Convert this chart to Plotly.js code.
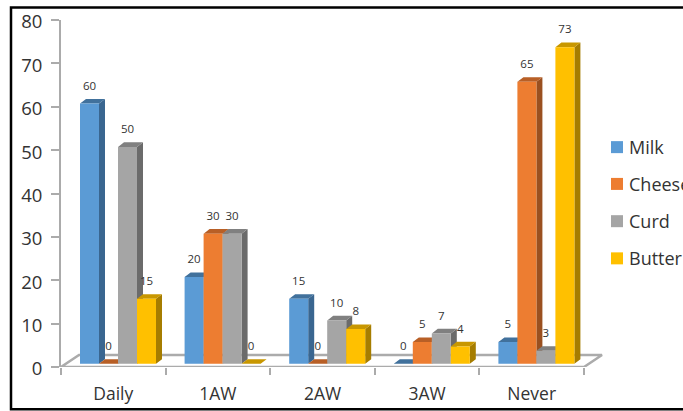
<!DOCTYPE html>
<html>
<head>
<meta charset="utf-8">
<script src="https://cdn.plot.ly/plotly-3.0.0.min.js"></script>
<style>html,body{margin:0;padding:0;background:#fff;overflow:hidden}</style>
</head>
<body>
<div id="chart" style="width:683px;height:411px"></div>
<script>
// Dairy consumption frequency, four products per frequency group
const categories = ["Daily", "1AW", "2AW", "3AW", "Never"];
const milk = [60, 20, 15, 0, 5];
const cheese = [0, 30, 0, 5, 65];
const curd = [50, 30, 10, 7, 3];
const butter = [15, 0, 8, 4, 73];
const seriesNames = ["Milk", "Cheese", "Curd", "Butter"];
const frontColors = ["#5B9BD5", "#ED7D31", "#A5A5A5", "#FFC000"];
const topColors = ["#41719C", "#B85F26", "#808080", "#C89700"];
const sideColors = ["#3A6690", "#9A5020", "#6B6B6B", "#A67D00"];
const ink = "#333333";
const fontFamily = "Open Sans";

// Plot box in pixels; the box reaches past the last group to hold the floor's depth and the swatches
const W = 683, H = 411, L = 61, AXIS_END = 584, R = 640, T = 19.5, B = 366.7;
const pxX = (AXIS_END - L) / 5, pxY = (B - T) / 80;

// Pseudo-3D geometry, expressed in axis units
const barW = 19 / pxX, barStart = 19 / pxX;
const lift = 3.2 / pxY;          // bars stand slightly behind the front axis
const depthX = 6 / pxX, depthY = 4.6 / pxY;
const floorX = 18 / pxX, floorY = 12 / pxY;

const allSeries = [milk, cheese, curd, butter];
const traces = [];

// Floor of the 3D box
traces.push({
  type: "scatter", mode: "lines", hoverinfo: "skip", showlegend: false, cliponaxis: false,
  x: [0, floorX, 5 + floorX, 5, 0], y: [0, floorY, floorY, 0, 0],
  line: {color: "#ABABAB", width: 2.5}
});

function polygons(values, sIdx, corners) {
  const xs = [], ys = [];
  values.forEach((v, c) => {
    const x0 = c + barStart + sIdx * barW, x1 = x0 + barW, y1 = lift + v;
    corners(x0, x1, y1).forEach(p => { xs.push(p[0]); ys.push(p[1]); });
    xs.push(null); ys.push(null);
  });
  return {x: xs, y: ys};
}
function face(pts, color) {
  return Object.assign({
    type: "scatter", mode: "lines", fill: "toself", fillcolor: color,
    line: {width: 0, color: color}, hoverinfo: "skip", showlegend: false, cliponaxis: false
  }, pts);
}

// Each series paints side, top and front, so later series cover earlier sides
allSeries.forEach((vals, s) => {
  traces.push(face(polygons(vals, s, (x0, x1, y1) =>
    [[x1, lift], [x1 + depthX, lift + depthY], [x1 + depthX, y1 + depthY], [x1, y1]]), sideColors[s]));
  traces.push(face(polygons(vals, s, (x0, x1, y1) =>
    [[x0, y1], [x0 + depthX, y1 + depthY], [x1 + depthX, y1 + depthY], [x1, y1]]), topColors[s]));
  traces.push(face(polygons(vals, s, (x0, x1, y1) =>
    [[x0, lift], [x1, lift], [x1, y1], [x0, y1]]), frontColors[s]));
});

// Value labels above every bar
allSeries.forEach((vals, s) => {
  traces.push({
    type: "scatter", mode: "text", hoverinfo: "skip", showlegend: false, cliponaxis: false,
    x: vals.map((v, c) => c + barStart + (s + 0.5) * barW),
    y: vals.map(v => v + lift + 16.6 / pxY),
    text: vals.map(String), textposition: "middle center",
    textfont: {family: fontFamily, size: 11.5, color: ink}
  });
});

// Legend: square swatches with labels to their right
const legendRows = [146.7, 183.5, 220.8, 258];
const toPaperX = p => (p - L) / (R - L);
const toPaperY = p => (B - p) / (B - T);
seriesNames.forEach((name, s) => {
  traces.push({
    type: "scatter", mode: "markers", name: name, hoverinfo: "name", showlegend: false, cliponaxis: false,
    x: [(617 - L) / pxX], y: [(B - legendRows[s]) / pxY],
    marker: {symbol: "square", size: 12, color: frontColors[s]}
  });
});
const legendLabels = seriesNames.map((name, s) => ({
  xref: "paper", yref: "paper", x: toPaperX(626.5), y: toPaperY(legendRows[s]),
  xanchor: "left", yanchor: "middle", showarrow: false, text: name,
  font: {family: fontFamily, size: 18, color: ink}
}));

const layout = {
  width: W, height: H, paper_bgcolor: "#fff", plot_bgcolor: "rgba(0,0,0,0)",
  margin: {l: L, r: W - R, t: T, b: H - B, pad: 0, autoexpand: false},
  font: {family: fontFamily, color: ink},
  showlegend: false,
  annotations: legendLabels,
  xaxis: {
    range: [0, (R - L) / pxX], showgrid: false, zeroline: false, showline: false,
    tickmode: "array", tickvals: categories.map((c, i) => i + 0.5), ticktext: categories,
    ticks: "", ticklabelstandoff: 14, tickfont: {size: 17.5, color: ink},
    minor: {tickmode: "array", tickvals: [0, 1, 2, 3, 4, 5], ticks: "outside", ticklen: 7, tickwidth: 1.5, tickcolor: "#ABABAB", showgrid: false}
  },
  yaxis: {
    range: [0, 80], dtick: 10, showgrid: false, zeroline: false, showline: true,
    linecolor: "#ABABAB", linewidth: 2,
    ticks: "outside", ticklen: 8, tickwidth: 1.5, tickcolor: "#ABABAB",
    ticklabelstandoff: 5, ticklabelshift: 2, tickfont: {size: 18.5, color: ink}
  },
  shapes: [{
    type: "rect", xref: "paper", yref: "paper", layer: "below",
    x0: toPaperX(11), x1: toPaperX(695), y0: toPaperY(7), y1: toPaperY(409),
    line: {color: "#000", width: 2.5}, fillcolor: "rgba(0,0,0,0)"
  }]
};

Plotly.newPlot("chart", traces, layout, {displayModeBar: false, responsive: false});
</script>
</body>
</html>
